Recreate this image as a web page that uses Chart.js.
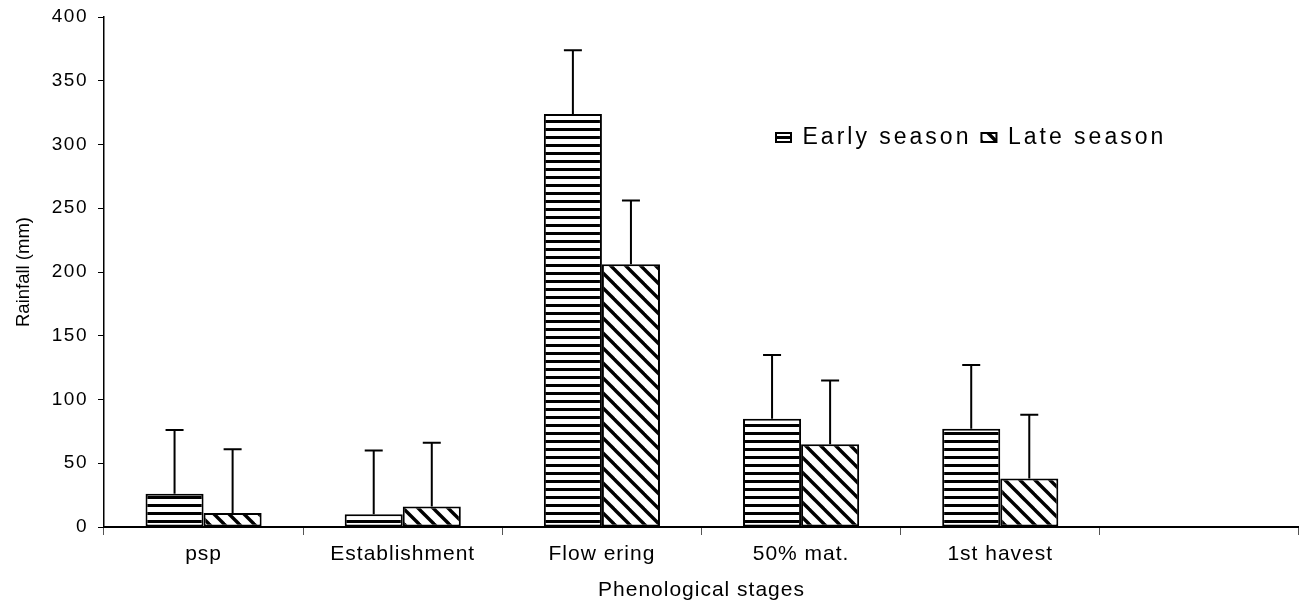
<!DOCTYPE html>
<html>
<head>
<meta charset="utf-8">
<script src="https://cdn.jsdelivr.net/npm/chart.js@4.4.0/dist/chart.umd.min.js"></script>
<style>
html,body{margin:0;padding:0;background:#fff;}
#wrap{width:1299px;height:606px;position:relative;}
</style>
</head>
<body>
<div id="wrap"><canvas id="c" width="1299" height="606"></canvas></div>
<script>
// ---- data ----
const categories = ['psp', 'Establishment', 'Flow ering', '50% mat.', '1st havest', ''];
const earlySeason = [26, 10, 324, 85, 77, null];
const lateSeason = [11, 16, 206, 65, 38, null];
const earlyError = [50, 50, 50, 50, 50, null];
const lateError = [50, 50, 50, 50, 50, null];
const seriesNames = ['Early season', 'Late season'];
const yMin = 0, yMax = 400, yStep = 50;
const xTitle = 'Phenological stages';
const yTitle = 'Rainfall (mm)';

const canvas = document.getElementById('c');
const ctx = canvas.getContext('2d');

function hPattern() {
  const c = document.createElement('canvas');
  c.width = 8; c.height = 8;
  const g = c.getContext('2d');
  g.fillStyle = '#fff'; g.fillRect(0, 0, 8, 8);
  g.fillStyle = '#000'; g.fillRect(0, 0, 8, 3);
  return ctx.createPattern(c, 'repeat');
}
function dPattern() {
  const s = 15;
  const c = document.createElement('canvas');
  c.width = s; c.height = s;
  const g = c.getContext('2d');
  g.fillStyle = '#fff'; g.fillRect(0, 0, s, s);
  g.strokeStyle = '#000'; g.lineWidth = 3.4;
  for (const o of [-s, 0, s]) {
    g.beginPath(); g.moveTo(o - 2, -2); g.lineTo(o + s + 2, s + 2); g.stroke();
  }
  return ctx.createPattern(c, 'repeat');
}

function wrapSpacing(obj, name, ls) {
  if (!obj || obj['__w_' + name]) return;
  const orig = obj[name];
  obj[name] = function (...a) {
    const c = this.ctx;
    const prev = c.letterSpacing;
    c.letterSpacing = ls;
    try { return orig.apply(this, a); } finally { c.letterSpacing = prev; }
  };
  obj['__w_' + name] = true;
}

const spacingPlugin = {
  id: 'spacing',
  beforeLayout(chart) {
    wrapSpacing(chart.legend, 'fit', '3px');
    wrapSpacing(chart.legend, 'draw', '3px');
    wrapSpacing(chart.scales.x, 'draw', '1px');
    wrapSpacing(chart.scales.y, 'draw', '1.5px');
    wrapSpacing(chart.scales.y, 'drawTitle', '0px');
  },
  afterLayout(chart) {
    const lg = chart.legend;
    if (!lg) return;
    lg.left = 766; lg.right = 1299; lg.width = 533;
    lg.top = 116; lg.bottom = 170; lg.height = 54;
  }
};

const errorSeries = [earlyError, lateError];
const errorBarPlugin = {
  id: 'errbars',
  afterDatasetsDraw(chart) {
    const c = chart.ctx;
    const ys = chart.scales.y;
    chart.data.datasets.forEach((ds, i) => {
      const meta = chart.getDatasetMeta(i);
      meta.data.forEach((el, j) => {
        const v = ds.data[j], e = errorSeries[i][j];
        if (v == null || e == null) return;
        const top = ys.getPixelForValue(v + e);
        c.save();
        c.strokeStyle = '#000'; c.lineWidth = 2;
        c.beginPath();
        c.moveTo(el.x, el.y); c.lineTo(el.x, top);
        c.moveTo(el.x - 9, top); c.lineTo(el.x + 9, top);
        c.stroke();
        c.restore();
      });
    });
  }
};

Chart.defaults.font.family = "'Liberation Sans', Arial, sans-serif";
Chart.defaults.color = '#000';

new Chart(ctx, {
  type: 'bar',
  data: {
    labels: categories,
    datasets: [
      { label: seriesNames[0], data: earlySeason, backgroundColor: hPattern(), borderColor: '#000', borderWidth: 2, borderSkipped: false },
      { label: seriesNames[1], data: lateSeason, backgroundColor: dPattern(), borderColor: '#000', borderWidth: 2, borderSkipped: false }
    ]
  },
  options: {
    responsive: false,
    animation: false,
    devicePixelRatio: 1,
    layout: { padding: { top: 16, left: 0, right: 0, bottom: 0 } },
    datasets: { bar: { categoryPercentage: 0.583, barPercentage: 1 } },
    plugins: {
      legend: {
        position: 'top', align: 'start', maxHeight: 1,
        labels: { boxWidth: 15, boxHeight: 9, padding: 10, font: { size: 23 }, color: '#000' }
      },
      tooltip: { enabled: false },
      title: { display: false }
    },
    scales: {
      x: {
        offset: true,
        grid: { offset: true, drawOnChartArea: false, drawTicks: true, tickLength: 8, color: '#555', lineWidth: 1 },
        border: { display: true, color: '#000', width: 2 },
        ticks: { font: { size: 21 }, color: '#000', padding: 7, maxRotation: 0, autoSkip: false },
        title: { display: true, text: xTitle, font: { size: 21 }, color: '#000', padding: { top: 0, bottom: 3 } },
        afterFit(s) { s.height = 79; s.paddingLeft = 0; s.paddingRight = 0; }
      },
      y: {
        min: yMin, max: yMax,
        ticks: { stepSize: yStep, font: { size: 19 }, color: '#000', padding: 10 },
        grid: { drawOnChartArea: false, drawTicks: true, tickLength: 6, color: '#000' },
        border: { display: true, color: '#000', width: 1.5 },
        title: { display: true, text: yTitle, font: { size: 18.5 }, color: '#000', padding: { top: 13, bottom: 0 } },
        afterFit(s) { s.width = 104; s.paddingTop = 0; s.paddingBottom = 0; }
      }
    }
  },
  plugins: [spacingPlugin, errorBarPlugin]
});
</script>
</body>
</html>
